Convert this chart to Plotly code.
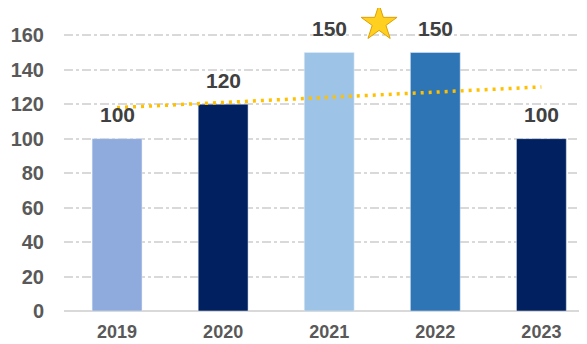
import plotly.graph_objects as go
import numpy as np

categories = ["2019", "2020", "2021", "2022", "2023"]
values = [100, 120, 150, 150, 100]
bar_colors = ["#8FAADC", "#002060", "#9DC3E6", "#2E75B6", "#002060"]
y_ticks = [0, 20, 40, 60, 80, 100, 120, 140, 160]
star_pos = (2.47, 167)

xi = list(range(len(categories)))
slope, intercept = np.polyfit(xi, values, 1)
trend = [slope * i + intercept for i in xi]

FONT = "Liberation Sans, Arial"

fig = go.Figure()
fig.add_trace(go.Bar(
    x=xi, y=values, marker_color=bar_colors, width=0.47,
    showlegend=False,
))
fig.add_trace(go.Scatter(
    x=xi, y=trend, mode="lines",
    line=dict(color="#FFC000", width=3.5, dash="3px,5px"),
    showlegend=False, hoverinfo="skip",
))
fig.add_trace(go.Scatter(
    x=[star_pos[0]], y=[star_pos[1]], mode="markers",
    marker=dict(symbol="star", size=27, color="#FFD020", line=dict(color="#E0A000", width=1)),
    cliponaxis=False, showlegend=False,
))
for i, v in zip(xi, values):
    fig.add_annotation(
        x=i, y=v, text=str(v), showarrow=False, yanchor="middle", yshift=24,
        font=dict(family=FONT, size=21, color="#404040", weight="bold"),
    )

fig.update_layout(
    width=579, height=336,
    margin=dict(l=56, r=0, t=10, b=33),
    plot_bgcolor="white", paper_bgcolor="white",
    xaxis=dict(
        range=[-0.5, 4.43], tickvals=xi, ticktext=categories,
        tickfont=dict(family=FONT, size=18, color="#595959", weight="bold"),
        showgrid=False, showline=False, zeroline=False, ticks="",
        automargin=False, ticklabelstandoff=8,
    ),
    yaxis=dict(
        range=[0, 170], tickvals=y_ticks,
        tickfont=dict(family=FONT, size=20, color="#595959", weight="bold"),
        showgrid=True, gridcolor="#D9D9D9", gridwidth=1.5, griddash="dashdot",
        zeroline=True, zerolinecolor="#D9D9D9", zerolinewidth=1.5,
        ticks="", ticklabelstandoff=19, automargin=False,
    ),
)

fig.write_html("out.html")
